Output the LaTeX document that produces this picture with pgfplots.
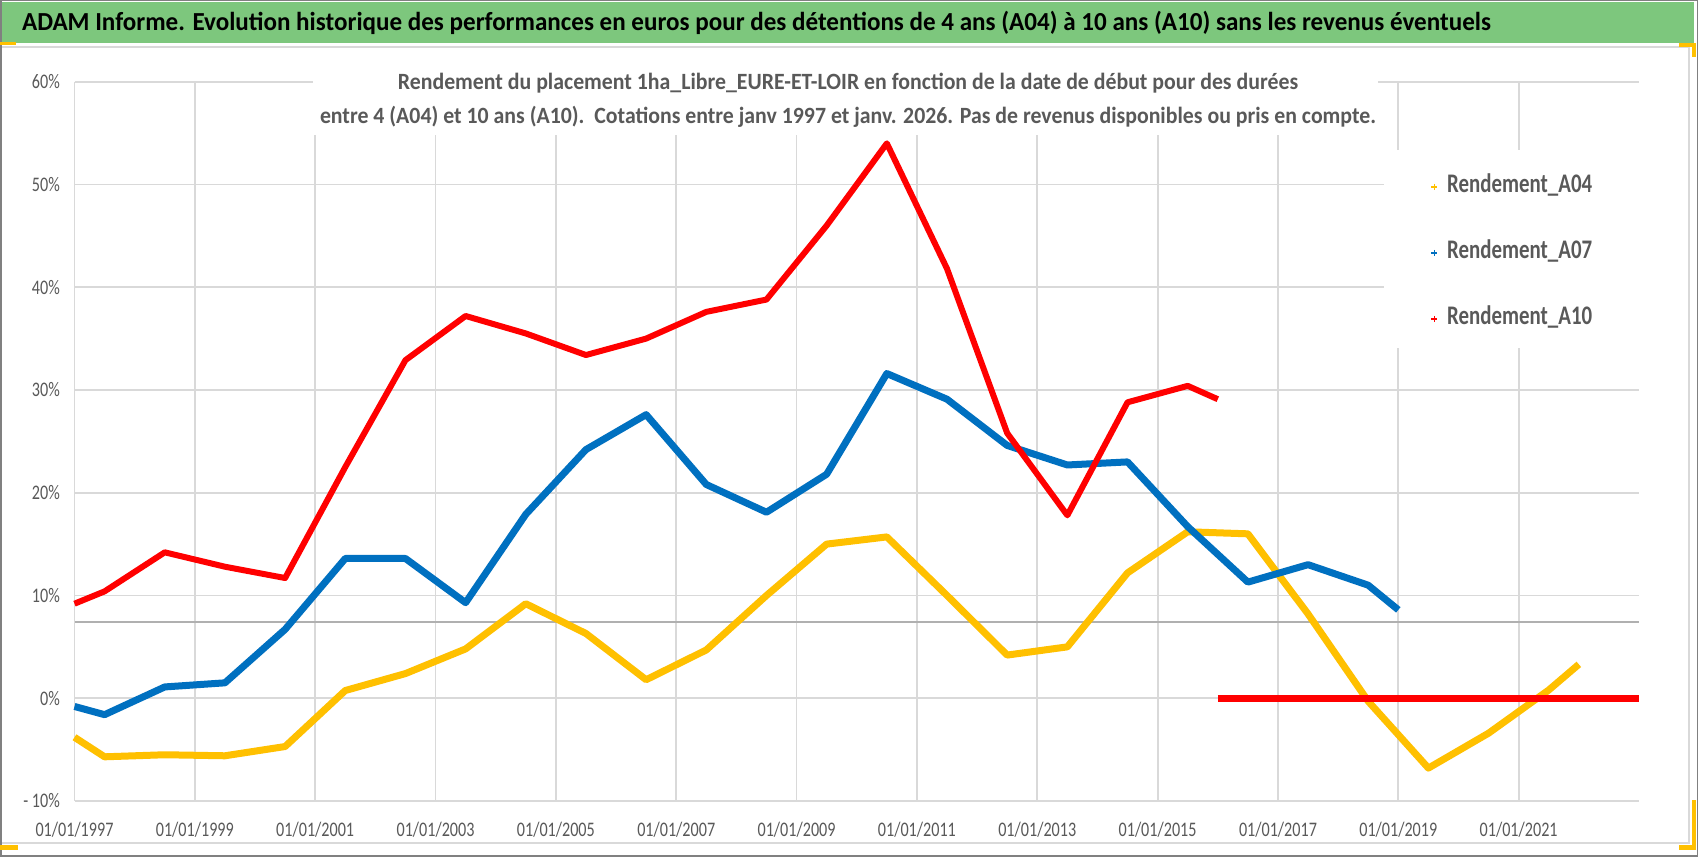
\documentclass[border=0pt]{standalone}
\usepackage{pgfplots}
\pgfplotsset{compat=1.18}
\usepackage{fontspec}
\setmainfont{Carlito}[FakeStretch=0.78]
\newfontfamily\titlefont{Carlito}[FakeStretch=0.965]
\newfontfamily\subfont{Carlito}[FakeStretch=0.936]
\definecolor{ygold}{HTML}{FFC000}
\definecolor{bblue}{HTML}{0070C0}
\definecolor{rred}{HTML}{FF0000}
\definecolor{gridg}{HTML}{D9D9D9}
\definecolor{txtg}{HTML}{595959}
\definecolor{barg}{HTML}{7DC77D}
\definecolor{refg}{HTML}{B0B0B0}
\begin{document}
\begin{tikzpicture}[x=0.5pt,y=0.5pt]
\fill[white] (0,0) rectangle (1698,857);
\fill[barg] (2,855) rectangle (1694,814);
\draw[gridg, line width=1pt] (2,810.3) -- (1690,810.3);
\draw[gridg, line width=1pt] (1689,810) -- (1689,14) -- (2,14);
\draw[gray, line width=0.75pt] (0.75,0.75) rectangle (1697.25,856.25);
\begin{axis}[
  at={(37.25pt,28pt)}, anchor=south west,
  scale only axis, width=782.25pt, height=359.65pt,
  xmin=1997, xmax=2023, ymin=-10, ymax=60,
  clip=false,
  axis line style={draw=none},
  tick style={draw=none},
  grid=major,
  major grid style={color=gridg, line width=0.9pt},
  xtick={1997,1999,...,2021},
  xticklabels={01/01/1997,01/01/1999,01/01/2001,01/01/2003,01/01/2005,01/01/2007,01/01/2009,01/01/2011,01/01/2013,01/01/2015,01/01/2017,01/01/2019,01/01/2021},
  ytick={-10,0,10,20,30,40,50,60},
  yticklabels={- 10\%,0\%,10\%,20\%,30\%,40\%,50\%,60\%},
  /pgf/number format/assume math mode=true,
  ticklabel style={font=\fontsize{10.35}{12}\selectfont, text=txtg},
  xticklabel style={yshift=-7pt},
  yticklabel style={xshift=-3.8pt},
  legend style={at={(axis cs:2019.54,50.96)}, anchor=north west, draw=none, fill=none,
    inner xsep=0pt, inner ysep=0pt, row sep=21pt, column sep=5pt,
    font=\bfseries\fontsize{13.4}{16}\selectfont, text=txtg,
    nodes={inner sep=0pt, text height=9pt, text depth=3pt}},
  legend cell align=left,
  legend image code/.code={\draw[#1] plot coordinates {(0pt,0pt)};},
]
\fill[white] (axis cs:2000.96,62) rectangle (axis cs:2018.66,54.82);
\fill[white] (axis cs:2018.76,53.36) rectangle (axis cs:2023.05,34.1);
\draw[refg, line width=1pt] (axis cs:1997,7.46) -- (axis cs:2023,7.46);

\addlegendimage{only marks, mark=+, color=ygold, mark size=1.5pt, mark options={line width=0.6pt}}
\addlegendentry{Rendement\_A04}
\addlegendimage{only marks, mark=+, color=bblue, mark size=1.5pt, mark options={line width=0.6pt}}
\addlegendentry{Rendement\_A07}
\addlegendimage{only marks, mark=+, color=rred, mark size=1.5pt, mark options={line width=0.6pt}}
\addlegendentry{Rendement\_A10}

% A04
\addplot[forget plot, ygold, line width=3.5pt, line join=round] coordinates {
(1997.0,-3.8) (1997.5,-5.7) (1998.5,-5.5) (1999.5,-5.6) (2000.5,-4.7)
(2001.5,0.75) (2002.5,2.4) (2003.5,4.8) (2004.5,9.2) (2005.5,6.3)
(2006.5,1.8) (2007.5,4.7) (2008.5,10.0) (2009.5,15.0) (2010.5,15.7)
(2011.5,10.0) (2012.5,4.2) (2013.5,5.0) (2014.5,12.2) (2015.5,16.2)
(2016.5,16.0) (2017.5,8.2) (2018.5,-0.3) (2019.5,-6.8) (2020.5,-3.4)
(2021.5,0.8) (2022.0,3.3)};
% A07
\addplot[forget plot, bblue, line width=3.5pt, line join=round] coordinates {
(1997.0,-0.8) (1997.5,-1.6) (1998.5,1.1) (1999.5,1.5) (2000.5,6.7)
(2001.5,13.6) (2002.5,13.6) (2003.5,9.3) (2004.5,17.9) (2005.5,24.2)
(2006.5,27.6) (2007.5,20.8) (2008.5,18.1) (2009.5,21.8) (2010.5,31.6)
(2011.5,29.1) (2012.5,24.6) (2013.5,22.7) (2014.5,23.0) (2015.5,16.7)
(2016.5,11.3) (2017.5,13.0) (2018.5,11.0) (2019.0,8.6)};
% A10
\addplot[forget plot, rred, line width=3pt, line join=round] coordinates {
(1997.0,9.2) (1997.5,10.4) (1998.5,14.2) (1999.5,12.8) (2000.5,11.7)
(2001.5,22.5) (2002.5,32.9) (2003.5,37.2) (2004.5,35.5) (2005.5,33.4)
(2006.5,35.0) (2007.5,37.6) (2008.5,38.8) (2009.5,46.0) (2010.5,54.0)
(2011.5,41.8) (2012.5,25.8) (2013.5,17.8) (2014.5,28.8) (2015.5,30.4)
(2016.0,29.1)};
\addplot[forget plot, rred, line width=3.3pt] coordinates {(2016.0,0) (2023.0,0)};
\end{axis}
\node[anchor=west, font=\titlefont\bfseries\fontsize{13}{15}\selectfont, text=black] at (15,834)
 {ADAM Informe. Evolution historique des performances en euros pour des détentions de 4 ans (A04) à 10 ans (A10) sans les revenus éventuels};
\node[align=center, font=\subfont\bfseries\fontsize{11.65}{17}\selectfont, text=txtg] at (848,757)
 {Rendement du placement 1ha\_Libre\_EURE-ET-LOIR en fonction de la date de début pour des durées\\
  entre 4 (A04) et 10 ans (A10).\ \ Cotations entre janv 1997 et janv. 2026. Pas de revenus disponibles ou pris en compte.};
% selection handles
\fill[ygold] (0,815) rectangle (16,812);
\fill[ygold] (1679,814) rectangle (1696,810);
\fill[ygold] (1692,814) rectangle (1696,800);
\fill[ygold] (1692,57) rectangle (1696,7);
\fill[ygold] (1679,12) rectangle (1696,7);
\fill[ygold] (0,12) rectangle (18,7);
\pgfresetboundingbox
\path[use as bounding box] (0,0) rectangle (1698,857);
\end{tikzpicture}
\end{document}
